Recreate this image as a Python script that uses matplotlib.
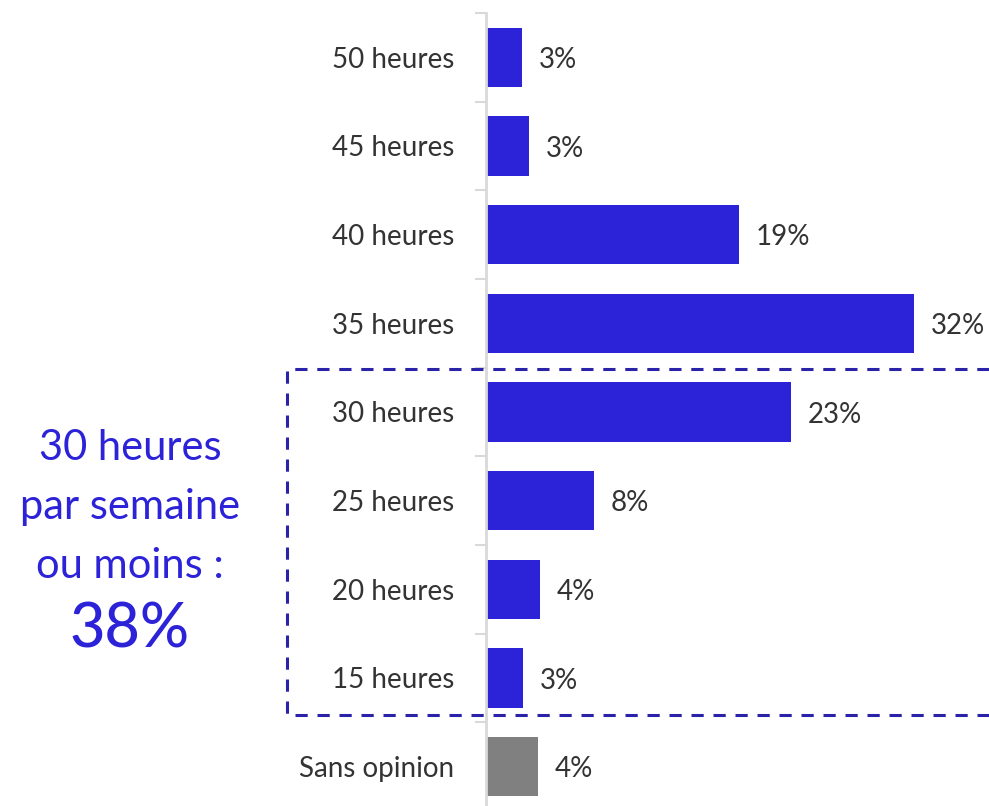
import matplotlib.pyplot as plt
import matplotlib.transforms as mtransforms
import numpy as np

# data (top to bottom)
categories = ["50 heures", "45 heures", "40 heures", "35 heures", "30 heures",
              "25 heures", "20 heures", "15 heures", "Sans opinion"]
values = [2.7, 3.2, 18.9, 32.0, 22.8, 8.1, 4.0, 2.8, 3.9]
value_labels = ["3%", "3%", "19%", "32%", "23%", "8%", "4%", "3%", "4%"]
bar_colors = ["#2c22d8"] * 8 + ["#808080"]

plt.rcParams['font.family'] = ['Lato', 'DejaVu Sans']

fig = plt.figure(figsize=(9.89, 8.06), dpi=100)
ax = fig.add_axes([486/989, -5/806, 1 - 486/989, 798/806])

y = np.arange(len(categories))
ax.barh(y, values, height=0.67, color=bar_colors)
ax.set_ylim(len(categories) - 0.5, -0.5)
ax.set_xlim(0, 503/13.375)

for yi, v, lab in zip(y, values, value_labels):
    ax.text(v + 1.25, yi + 0.03, lab, va='center', ha='left', fontsize=20, color='#333333')

ax.set_yticks(y)
ax.set_yticklabels(categories, fontsize=20, color='#333333')
ax.tick_params(axis='y', which='major', length=0, pad=23)
ax.set_yticks(np.arange(-0.5, len(categories) - 0.5, 1), minor=True)
ax.tick_params(axis='y', which='minor', length=8, width=1.5, color='#d9d9d9')
ax.set_xticks([])
for s in ['top', 'right', 'bottom']:
    ax.spines[s].set_visible(False)
ax.spines['left'].set_color('#d9d9d9')
ax.spines['left'].set_linewidth(2)

# dashed box around "30 heures ou moins"
trans = mtransforms.blended_transform_factory(fig.transFigure, ax.transData)
xl, xr = 287/989, 1.0
ax.plot([xr, xl, xl, xr], [3.52, 3.52, 7.42, 7.42], transform=trans,
        color='#2a22a8', lw=2.2, ls=(0, (4, 3.2)), clip_on=False)

ann_color = '#2c22d8'
fig.text(130/989, 1 - 448/806, "30 heures", ha='center', va='center', fontsize=30, color=ann_color)
fig.text(130/989, 1 - 507/806, "par semaine", ha='center', va='center', fontsize=30, color=ann_color)
fig.text(130/989, 1 - 566/806, "ou moins :", ha='center', va='center', fontsize=30, color=ann_color)
fig.text(130/989, 1 - 630/806, "38%", ha='center', va='center', fontsize=44,
         fontweight='medium', color=ann_color)

fig.savefig('out.png', dpi=100, facecolor='white')
